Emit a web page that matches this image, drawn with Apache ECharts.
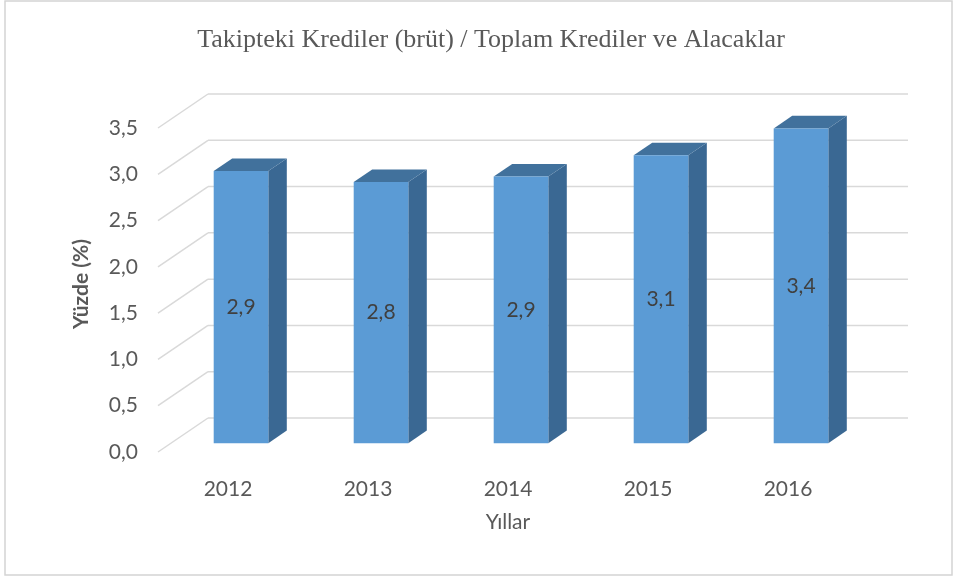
<!DOCTYPE html>
<html>
<head>
<meta charset="utf-8">
<script src="https://cdn.jsdelivr.net/npm/echarts@6/dist/echarts.min.js"></script>
<style>
  html, body { margin: 0; padding: 0; background: #fff; }
  #main { width: 956px; height: 579px; }
</style>
</head>
<body>
<div id="main"></div>
<script>
const years = ['2012', '2013', '2014', '2015', '2016'];
const ratios = [2.94, 2.82, 2.88, 3.11, 3.4];
const yTicks = [0, 0.5, 1, 1.5, 2, 2.5, 3, 3.5];

// depth of the 3d box in pixels, bars sit between F1 and F2 of it
const DX = 50;
const DY = -34;
const F1 = 0.26;
const F2 = 0.63;

const fmt = (v) => v.toFixed(1).replace('.', ',');

const myChart = echarts.init(document.getElementById('main'));

const option = {
  backgroundColor: '#fff',
  textStyle: { fontFamily: 'Lato' },
  title: {
    text: 'Takipteki Krediler (brüt) / Toplam Krediler ve Alacaklar',
    left: 486,
    textAlign: 'center',
    top: 22,
    textStyle: {
      fontFamily: 'Liberation Serif',
      fontWeight: 'normal',
      fontSize: 26,
      color: '#595959',
    },
  },
  graphic: [
    {
      type: 'rect',
      shape: { x: 5, y: 1, width: 947, height: 574 },
      style: { fill: 'none', stroke: '#d4d4d4', lineWidth: 1.5 },
      silent: true,
    },
  ],
  grid: { left: 158, right: 98, top: 128, bottom: 127 },
  xAxis: {
    type: 'category',
    data: years,
    axisLine: { show: false },
    axisTick: { show: false },
    axisLabel: { color: '#595959', fontSize: 21, margin: 27 },
    name: 'Yıllar',
    nameLocation: 'middle',
    nameGap: 60,
    nameTextStyle: { color: '#595959', fontSize: 21 },
  },
  yAxis: {
    type: 'value',
    min: 0,
    max: 3.5,
    interval: 0.5,
    axisLine: { show: false },
    axisTick: { show: false },
    splitLine: { show: false },
    axisLabel: {
      color: '#595959',
      fontSize: 21,
      margin: 20,
      formatter: (v) => fmt(v),
    },
    name: 'Yüzde (%)',
    nameLocation: 'middle',
    nameGap: 66,
    nameTextStyle: { color: '#595959', fontSize: 21, fontWeight: 'bold', padding: [0, 0, 0, 12] },
  },
  series: [
    {
      type: 'custom',
      silent: true,
      z: 1,
      data: yTicks.map((v) => [0, v]),
      encode: { x: 0, y: 1 },
      renderItem: function (params, api) {
        const cs = params.coordSys;
        const y = api.coord([0, api.value(1)])[1];
        const x0 = cs.x;
        const x1 = cs.x + cs.width;
        const style = { stroke: '#d9d9d9', lineWidth: 1.5 };
        return {
          type: 'group',
          children: [
            { type: 'line', shape: { x1: x0, y1: y, x2: x0 + DX, y2: y + DY }, style: style },
            { type: 'line', shape: { x1: x0 + DX, y1: y + DY, x2: x1 + DX, y2: y + DY }, style: style },
          ],
        };
      },
    },
    {
      type: 'custom',
      z: 2,
      data: ratios.map((v, i) => [i, v]),
      encode: { x: 0, y: 1 },
      renderItem: function (params, api) {
        const i = api.value(0);
        const v = api.value(1);
        const top = api.coord([i, v]);
        const base = api.coord([i, 0]);
        const w = api.size([1, 0])[0] * 0.39;
        const fx = DX * F1, fy = DY * F1;
        const bx = DX * F2, by = DY * F2;
        const xl = top[0] - w / 2;
        const xr = top[0] + w / 2;
        const yt = top[1];
        const yb = base[1];
        return {
          type: 'group',
          children: [
            {
              type: 'polygon',
              shape: { points: [[xr + fx, yt + fy], [xr + bx, yt + by], [xr + bx, yb + by], [xr + fx, yb + fy]] },
              style: { fill: '#3a6893' },
            },
            {
              type: 'polygon',
              shape: { points: [[xl + fx, yt + fy], [xl + bx, yt + by], [xr + bx, yt + by], [xr + fx, yt + fy]] },
              style: { fill: '#41719c' },
            },
            {
              type: 'rect',
              shape: { x: xl + fx, y: yt + fy, width: w, height: yb - yt },
              style: { fill: '#5b9bd5' },
            },
            {
              type: 'text',
              x: top[0] + fx,
              y: (yt + yb) / 2 + fy,
              style: {
                text: fmt(v),
                fill: '#404040',
                fontSize: 21,
                fontFamily: 'Lato',
                align: 'center',
                verticalAlign: 'middle',
              },
            },
          ],
        };
      },
    },
  ],
};

myChart.setOption(option);
</script>
</body>
</html>
